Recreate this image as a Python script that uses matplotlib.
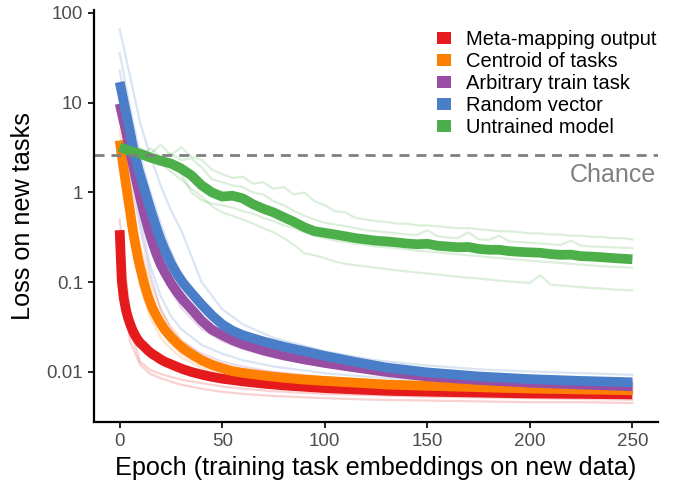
"""Loss on new tasks while training task embeddings, by initialisation."""

import matplotlib

matplotlib.use("Agg")
import matplotlib.pyplot as plt
from matplotlib.patches import Patch
import numpy as np

plt.rcParams["font.family"] = ["Liberation Sans", "DejaVu Sans"]

METHODS = [
    "Meta-mapping output",
    "Centroid of tasks",
    "Arbitrary train task",
    "Random vector",
    "Untrained model",
]
COLORS = ["#E41A1C", "#FF7F00", "#984EA3", "#4A7EC8", "#4DAF4A"]
CHANCE = 2.63

# epochs at which the smooth mean curves were read
EPOCHS_MEAN = [0, 1, 2, 3, 4, 5, 6, 7, 8, 9, 10, 12, 14, 16, 18, 20, 22, 25,
               28, 31, 35, 40, 45, 50, 55, 60, 70, 80, 90, 100, 115, 130, 150,
               175, 200, 225, 250]
red_mean = [0.380, 0.105, 0.0661, 0.0501, 0.0407, 0.0347, 0.0302, 0.0269,
            0.0245, 0.0226, 0.0211, 0.0191, 0.0172, 0.0158, 0.0148, 0.0138,
            0.0130, 0.0122, 0.0114, 0.0107, 0.0100, 0.00933, 0.00881, 0.00841,
            0.00813, 0.00785, 0.00741, 0.00708, 0.00684, 0.00661, 0.00638,
            0.00617, 0.00603, 0.00589, 0.00575, 0.00569, 0.00562]
orange_mean = [3.8, 2.6, 1.8, 1.26, 0.891, 0.631, 0.437, 0.316, 0.240, 0.182,
               0.145, 0.0955, 0.0676, 0.0513, 0.0417, 0.0347, 0.0295, 0.0245,
               0.0209, 0.0182, 0.0158, 0.0135, 0.0120, 0.0110, 0.0102, 0.00977,
               0.00912, 0.00861, 0.00822, 0.00794, 0.00759, 0.00724, 0.00700,
               0.00676, 0.00653, 0.00638, 0.00624]
purple_mean = [9.77, 7.76, 6.17, 4.90, 3.80, 2.95, 2.29, 1.78, 1.38, 1.10,
               0.879, 0.575, 0.389, 0.275, 0.204, 0.158, 0.129, 0.0977,
               0.0776, 0.0631, 0.0501, 0.0372, 0.0295, 0.0257, 0.0226, 0.0204,
               0.0174, 0.0153, 0.0138, 0.0126, 0.0112, 0.0100, 0.00891,
               0.00813, 0.00759, 0.00724, 0.00692]
blue_mean = [17.0, 13.2, 10.2, 7.94, 6.17, 4.79, 3.63, 2.82, 2.29, 1.86, 1.55,
             1.10, 0.776, 0.550, 0.398, 0.295, 0.229, 0.162, 0.123, 0.0977,
             0.0759, 0.0562, 0.0427, 0.0339, 0.0288, 0.0257, 0.0219, 0.0191,
             0.0170, 0.0151, 0.0129, 0.0112, 0.00989, 0.00891, 0.00832,
             0.00794, 0.00767]

# individual runs (thin lines)
EPOCHS_RUN = [0, 5, 10, 15, 20, 25, 30, 40, 50, 60, 75, 100, 125, 150, 175,
              200, 225, 250]
red_runs = [
    [0.5, 0.045, 0.024, 0.017, 0.014, 0.012, 0.011, 0.0097, 0.0088, 0.0082,
     0.0076, 0.007, 0.0067, 0.0065, 0.0063, 0.0062, 0.0061, 0.006],
    [0.3, 0.03, 0.013, 0.0105, 0.0095, 0.0088, 0.0082, 0.0075, 0.0069, 0.0065,
     0.0061, 0.0057, 0.0055, 0.0053, 0.0052, 0.0051, 0.005, 0.0049],
    [0.25, 0.022, 0.012, 0.0095, 0.0085, 0.0078, 0.0072, 0.0065, 0.006, 0.0057,
     0.0054, 0.0051, 0.0049, 0.0048, 0.0047, 0.0046, 0.0046, 0.0045],
]
orange_runs = [
    [5, 0.9, 0.25, 0.1, 0.05, 0.032, 0.023, 0.015, 0.012, 0.0107, 0.0096,
     0.0087, 0.008, 0.0076, 0.0073, 0.0071, 0.0069, 0.0068],
    [3, 0.45, 0.09, 0.04, 0.024, 0.018, 0.0145, 0.011, 0.0093, 0.0085, 0.0078,
     0.0072, 0.0067, 0.0064, 0.0062, 0.006, 0.0059, 0.0058],
    [2.5, 0.5, 0.12, 0.055, 0.03, 0.021, 0.016, 0.0118, 0.01, 0.0091, 0.0083,
     0.0076, 0.0071, 0.0068, 0.0066, 0.0065, 0.0064, 0.0063],
]
purple_runs = [
    [14, 3.5, 1.1, 0.4, 0.17, 0.1, 0.07, 0.04, 0.028, 0.022, 0.017, 0.013,
     0.011, 0.0097, 0.0088, 0.0082, 0.0077, 0.0074],
    [7, 1.6, 0.4, 0.12, 0.05, 0.03, 0.022, 0.016, 0.013, 0.0115, 0.01, 0.0088,
     0.008, 0.0075, 0.0071, 0.0068, 0.0066, 0.0064],
    [9, 3, 0.9, 0.35, 0.15, 0.08, 0.052, 0.03, 0.022, 0.018, 0.0145, 0.0115,
     0.0097, 0.0087, 0.008, 0.0075, 0.0071, 0.0069],
]
blue_runs = [
    [66, 20, 6, 2.5, 1.2, 0.63, 0.38, 0.1, 0.05, 0.034, 0.024, 0.017, 0.0135,
     0.0118, 0.0107, 0.0101, 0.0097, 0.0093],
    [36, 9, 2.6, 1.0, 0.45, 0.22, 0.12, 0.05, 0.032, 0.025, 0.02, 0.015, 0.012,
     0.0105, 0.0095, 0.0088, 0.0083, 0.008],
    [23, 5, 1.4, 0.5, 0.2, 0.1, 0.06, 0.033, 0.024, 0.019, 0.0155, 0.012,
     0.0102, 0.0092, 0.0085, 0.008, 0.0076, 0.0073],
    [12, 2.5, 0.5, 0.15, 0.07, 0.042, 0.03, 0.02, 0.016, 0.0135, 0.0115,
     0.0097, 0.0087, 0.0081, 0.0076, 0.0073, 0.007, 0.0068],
]

# untrained model is noisy, read every 5 epochs
EPOCHS_GREEN = np.arange(0, 251, 5)
green_mean = [3.2, 2.9, 2.7, 2.45, 2.25, 2.1, 1.85, 1.55, 1.2, 1.0, 0.9, 0.92,
              0.86, 0.74, 0.66, 0.6, 0.53, 0.47, 0.41, 0.37, 0.355, 0.34,
              0.325, 0.31, 0.3, 0.29, 0.285, 0.278, 0.27, 0.265, 0.268, 0.255,
              0.25, 0.245, 0.247, 0.235, 0.23, 0.23, 0.222, 0.218, 0.215, 0.213,
              0.206, 0.202, 0.203, 0.195, 0.193, 0.19, 0.186, 0.183, 0.18]
green_runs = [
    [3.3, 3.0, 3.1, 2.7, 3.4, 2.6, 3.2, 2.5, 2.3, 1.8, 1.6, 1.45, 1.5, 1.25,
     1.3, 1.1, 1.15, 0.95, 1.0, 0.8, 0.72, 0.62, 0.6, 0.52, 0.5, 0.48, 0.47,
     0.45, 0.45, 0.43, 0.43, 0.42, 0.41, 0.4, 0.4, 0.39, 0.38, 0.37, 0.37,
     0.36, 0.35, 0.35, 0.34, 0.34, 0.33, 0.33, 0.32, 0.32, 0.31, 0.31, 0.30],
    [3.0, 2.8, 2.6, 3.1, 2.5, 2.7, 2.3, 2.4, 1.9, 1.4, 1.3, 1.2, 1.15, 1.0,
     0.95, 0.8, 0.72, 0.62, 0.55, 0.5, 0.46, 0.44, 0.42, 0.4, 0.38, 0.37,
     0.36, 0.35, 0.34, 0.335, 0.38, 0.325, 0.315, 0.31, 0.36, 0.3, 0.295,
     0.33, 0.285, 0.28, 0.275, 0.27, 0.265, 0.26, 0.29, 0.255, 0.25, 0.248,
     0.245, 0.242, 0.24],
    [2.9, 2.6, 2.4, 2.2, 2.1, 1.9, 1.6, 1.0, 0.82, 0.75, 0.72, 0.68, 0.62,
     0.58, 0.52, 0.48, 0.43, 0.4, 0.36, 0.33, 0.31, 0.29, 0.28, 0.27, 0.26,
     0.25, 0.245, 0.24, 0.232, 0.225, 0.22, 0.215, 0.21, 0.205, 0.2, 0.196,
     0.19, 0.186, 0.182, 0.178, 0.174, 0.17, 0.167, 0.164, 0.16, 0.157,
     0.154, 0.151, 0.149, 0.147, 0.145],
    [3.4, 2.9, 2.6, 2.5, 2.1, 1.7, 1.4, 1.1, 0.9, 0.7, 0.6, 0.55, 0.5, 0.45,
     0.4, 0.36, 0.31, 0.26, 0.21, 0.2, 0.185, 0.17, 0.16, 0.155, 0.15, 0.145,
     0.14, 0.136, 0.132, 0.128, 0.125, 0.122, 0.118, 0.115, 0.112, 0.11,
     0.107, 0.104, 0.102, 0.1, 0.098, 0.12, 0.094, 0.092, 0.09, 0.088, 0.086,
     0.085, 0.083, 0.082, 0.081],
]

X_TICKS = [0, 50, 100, 150, 200, 250]
Y_TICKS = [0.01, 0.1, 1, 10, 100]
Y_TICK_LABELS = ["0.01", "0.1", "1", "10", "100"]


def main() -> None:
    fig = plt.figure(figsize=(6.74, 4.87), dpi=100)
    ax = fig.add_axes([0.1395, 0.1335, 0.8368, 0.846])

    means = [
        (EPOCHS_MEAN, red_mean),
        (EPOCHS_MEAN, orange_mean),
        (EPOCHS_MEAN, purple_mean),
        (EPOCHS_MEAN, blue_mean),
        (EPOCHS_GREEN, green_mean),
    ]
    runs = [
        (EPOCHS_RUN, red_runs),
        (EPOCHS_RUN, orange_runs),
        (EPOCHS_RUN, purple_runs),
        (EPOCHS_RUN, blue_runs),
        (EPOCHS_GREEN, green_runs),
    ]

    # thin individual runs underneath
    for color, (epochs, group) in zip(COLORS, runs):
        for run in group:
            ax.plot(epochs, run, color=color, lw=1.6, alpha=0.2,
                    solid_joinstyle="round")

    for color, (epochs, values) in zip(COLORS, means):
        ax.plot(epochs, values, color=color, lw=7, solid_capstyle="butt",
                solid_joinstyle="round")

    ax.axhline(CHANCE, color="#808080", lw=2, dashes=(3.6, 2.5))
    ax.text(261.5, 1.57, "Chance", color="#808080", fontsize=18,
            ha="right", va="center")

    ax.set_yscale("log")
    ax.set_xlim(-12.5, 262.5)
    ax.set_ylim(0.00277, 108)
    ax.set_xticks(X_TICKS)
    ax.set_yticks(Y_TICKS)
    ax.set_yticklabels(Y_TICK_LABELS)
    ax.minorticks_off()
    ax.tick_params(axis="both", length=4, width=1.4, colors="#222222",
                   labelcolor="#4D4D4D", labelsize=13.5, pad=4)
    for side in ("top", "right"):
        ax.spines[side].set_visible(False)
    for side in ("left", "bottom"):
        ax.spines[side].set_linewidth(1.6)

    ax.set_xlabel("Epoch (training task embeddings on new data)",
                  fontsize=18.2, labelpad=4)
    ax.set_ylabel("Loss on new tasks", fontsize=18.2, labelpad=8)

    handles = [Patch(facecolor=c, edgecolor="none") for c in COLORS]
    ax.legend(handles, METHODS, loc="upper left",
              bbox_to_anchor=(0.636, 0.955), bbox_transform=fig.transFigure,
              frameon=False, fontsize=14.5, handlelength=0.7, handleheight=0.5,
              handletextpad=0.75, labelspacing=0.15, borderaxespad=0)

    fig.savefig("out.png", dpi=100)
    plt.close(fig)


if __name__ == "__main__":
    main()
